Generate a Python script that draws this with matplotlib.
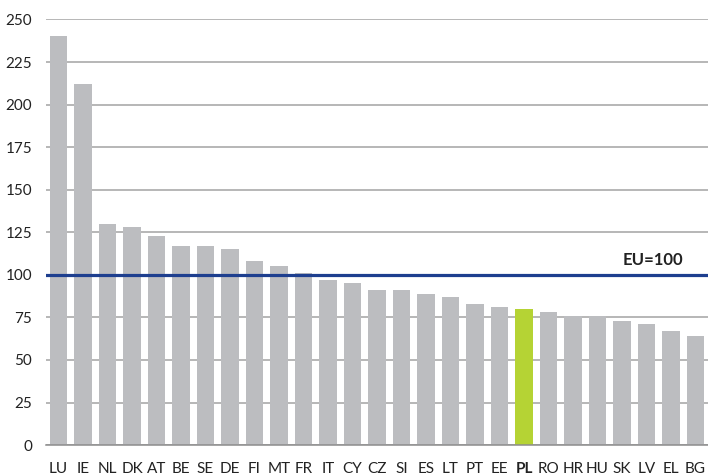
import matplotlib
matplotlib.use("Agg")
import matplotlib.pyplot as plt
import numpy as np

plt.rcParams['font.family'] = ['Lato', 'DejaVu Sans']

countries = ['LU', 'IE', 'NL', 'DK', 'AT', 'BE', 'SE', 'DE', 'FI', 'MT', 'FR', 'IT', 'CY', 'CZ',
             'SI', 'ES', 'LT', 'PT', 'EE', 'PL', 'RO', 'HR', 'HU', 'SK', 'LV', 'EL', 'BG']
values = [240, 212, 130, 128, 123, 117, 117, 115, 108, 105, 101, 97, 95, 91,
          91, 89, 87, 83, 81, 80, 78, 76, 76, 73, 71, 67, 64]
highlight = 'PL'
eu_level = 100
yticks = [0, 25, 50, 75, 100, 125, 150, 175, 200, 225, 250]

GREY = '#bcbdc0'
GREEN = '#b5d334'
NAVY = '#1e3f8f'
GRID = '#a3a3a3'

fig = plt.figure(figsize=(7.08, 4.75), dpi=100)
ax = fig.add_axes([0.065, 0.063, 0.935, 0.896])

x = np.arange(len(countries))
colors = [GREEN if c == highlight else GREY for c in countries]
ax.bar(x, values, width=0.71, color=colors, zorder=2)

# EU average reference line
ax.axhline(eu_level, color=NAVY, lw=2.3, zorder=3)
ax.text(25.5, eu_level + 8.5, 'EU=100', ha='right', va='center',
        fontsize=12, fontweight='bold', color='#222222')

ax.set_ylim(0, 250)
ax.set_xlim(-0.51, len(countries) - 0.49)
ax.set_yticks(yticks)
ax.yaxis.grid(True, color=GRID, lw=1.1, zorder=0)
ax.set_axisbelow(True)
ax.tick_params(axis='both', length=0, labelsize=11, colors='#222222')
ax.tick_params(axis='x', pad=12)
ax.tick_params(axis='y', pad=10)
ax.set_xticks(x)
ax.set_xticklabels(countries)
for lbl in ax.get_xticklabels():
    if lbl.get_text() == highlight:
        lbl.set_fontweight('bold')

for side in ['top', 'right', 'left']:
    ax.spines[side].set_visible(False)
ax.spines['bottom'].set_color('#8c8c8c')
ax.spines['bottom'].set_linewidth(1.1)

fig.savefig('out.png', dpi=100)
